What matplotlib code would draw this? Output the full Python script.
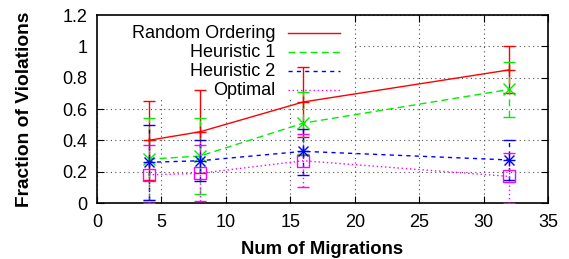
import matplotlib
matplotlib.use("Agg")
import matplotlib.pyplot as plt
from matplotlib.patches import Rectangle

# data
migrations = [4, 8, 16, 32]

random_mean = [0.40, 0.455, 0.645, 0.85]
random_low = [0.15, 0.19, 0.42, 0.70]
random_high = [0.65, 0.72, 0.87, 1.00]

h1_mean = [0.28, 0.30, 0.51, 0.725]
h1_low = [0.02, 0.06, 0.31, 0.55]
h1_high = [0.54, 0.54, 0.71, 0.90]

h2_mean = [0.26, 0.27, 0.33, 0.275]
h2_low = [0.02, 0.14, 0.18, 0.15]
h2_high = [0.50, 0.40, 0.47, 0.40]

opt_mean = [0.18, 0.19, 0.27, 0.17]
opt_low = [0.0, 0.01, 0.10, 0.0]
opt_high = [0.37, 0.37, 0.44, 0.32]

labels = ["Random Ordering", "Heuristic 1", "Heuristic 2", "Optimal"]
x_ticks = [0, 5, 10, 15, 20, 25, 30, 35]
y_ticks = [0, 0.2, 0.4, 0.6, 0.8, 1.0, 1.2]
y_ticklabels = ["0", "0.2", "0.4", "0.6", "0.8", "1", "1.2"]

plt.rcParams["font.family"] = ["Liberation Sans", "DejaVu Sans"]

fig = plt.figure(figsize=(5.69, 2.59), dpi=100)
ax = fig.add_axes([0.1705, 0.216, 0.7925, 0.726])

series = [
    (random_mean, random_low, random_high, "#ff0000", "-", "+", 8),
    (h1_mean, h1_low, h1_high, "#00ee00", (0, (5, 3)), "x", 8),
    (h2_mean, h2_low, h2_high, "#0000ff", (0, (3, 3)), "*", 0),
    (opt_mean, opt_low, opt_high, "#ff00ff", (0, (1, 2)), "s", 9),
]

for mean, low, high, color, ls, marker, ms in series:
    yerr = [[m - l for m, l in zip(mean, low)], [h - m for m, h in zip(mean, high)]]
    line, caps, bars = ax.errorbar(
        migrations, mean, yerr=yerr, color=color, linestyle=ls, linewidth=1.0,
        marker=marker if marker != "*" else None, markersize=ms,
        markerfacecolor="none", markeredgewidth=1.0,
        capsize=4, capthick=1.0, elinewidth=1.0, zorder=3,
    )
    for b in bars:
        b.set_linestyle(ls)
    if marker == "*":
        ax.plot(migrations, mean, linestyle="none", marker="+", color=color,
                markersize=9, markeredgewidth=1.0, zorder=4)
        ax.plot(migrations, mean, linestyle="none", marker="x", color=color,
                markersize=7, markeredgewidth=1.0, zorder=4)

ax.set_xlim(0, 35)
ax.set_ylim(0, 1.2)
ax.set_xticks(x_ticks)
ax.set_yticks(y_ticks)
ax.set_yticklabels(y_ticklabels)
ax.tick_params(direction="in", length=5, width=0.8, top=True, right=True,
               labelsize=13)
ax.tick_params(axis="x", pad=8)
ax.tick_params(axis="y", pad=7)
ax.grid(True, color="0.3", linestyle=(0, (1, 3)), linewidth=0.8)
ax.set_axisbelow(True)
for s in ax.spines.values():
    s.set_linewidth(1.2)

ax.set_xlabel("Num of Migrations", fontsize=13.3, fontweight="bold", labelpad=7)
ax.set_ylabel("Fraction of Violations", fontsize=13.8, fontweight="bold", labelpad=21)

# gnuplot-style key: right-aligned text, sample line after it,
# opaque box that hides the grid but not the data
ax.add_patch(Rectangle((0, 0.548), 0.565, 0.452, transform=ax.transAxes,
                       facecolor="white", edgecolor="none", zorder=1))
key_y = [0.904, 0.803, 0.702, 0.601]
for (mean, low, high, color, ls, marker, ms), label, ky in zip(series, labels, key_y):
    ax.text(0.395, ky, label, transform=ax.transAxes, ha="right", va="center",
            fontsize=13, zorder=2)
    ax.plot([0.4235, 0.539], [ky, ky], transform=ax.transAxes, color=color,
            linestyle=ls, linewidth=1.0, zorder=2, clip_on=False)

fig.savefig("out.png", dpi=100)
